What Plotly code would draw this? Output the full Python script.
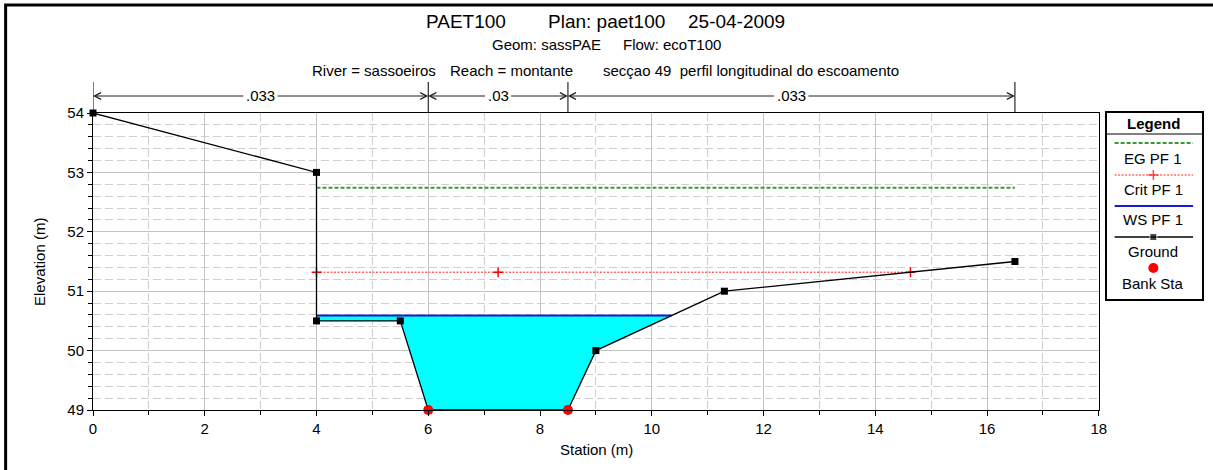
import plotly.graph_objects as go

# ---------------- data ----------------
ground_x = [0, 4, 4, 5.5, 6, 8.5, 9, 11.3, 16.5]
ground_y = [54, 53, 50.5, 50.5, 49, 49, 50, 51, 51.5]
bank_x = [6, 8.5]
bank_y = [49, 49]
ws_elev = 50.59
eg_x = [4, 16.5]
eg_elev = 52.74
crit_x = [4, 7.25, 14.63]
crit_elev = 51.32
n_x = [0, 6, 8.5, 16.5]
n_labels = [".033", ".03", ".033"]

title_parts = ["PAET100", "Plan: paet100", "25-04-2009"]
sub1_parts = ["Geom: sassPAE", "Flow: ecoT100"]
sub2_parts = ["River = sassoeiros", "Reach = montante",
              "secçao 49\u00a0\u00a0perfil longitudinal do escoamento"]
legend_names = ["EG PF 1", "Crit PF 1", "WS PF 1", "Ground", "Bank Sta"]

FONT = "Liberation Sans, Arial, sans-serif"

# ---------------- geometry helpers (layout only, page pixel coords) ----------------
OFF = 0  # body margin removed via post_script
W, H = 1213 - OFF, 470 - OFF
ML = 93 - OFF
MT = 113 - OFF
MB = H - (410 - OFF)
MR = W - (1210 - OFF)
PW = W - ML - MR
PH = H - MT - MB


def pxx(px):
    return (px - OFF - ML) / PW


def pxy(py):
    return (H - MB - (py - OFF)) / PH


# water polygon: ground clipped below water surface
poly_x, poly_y = [], []
for i in range(len(ground_x)):
    if ground_y[i] <= ws_elev:
        poly_x.append(ground_x[i])
        poly_y.append(ground_y[i])
    if i + 1 < len(ground_x):
        y0, y1 = ground_y[i], ground_y[i + 1]
        if (y0 - ws_elev) * (y1 - ws_elev) < 0:
            t = (ws_elev - y0) / (y1 - y0)
            poly_x.append(ground_x[i] + t * (ground_x[i + 1] - ground_x[i]))
            poly_y.append(ws_elev)
ws_x = [min(x for x, y in zip(poly_x, poly_y) if y == ws_elev),
        max(x for x, y in zip(poly_x, poly_y) if y == ws_elev)]

fig = go.Figure()

fig.add_trace(go.Scatter(x=poly_x, y=poly_y, fill="toself", fillcolor="#00ffff",
                         mode="lines", line=dict(width=0, color="#00ffff"),
                         hoverinfo="skip", showlegend=False))
fig.add_trace(go.Scatter(x=ws_x, y=[ws_elev] * 2, mode="lines",
                         line=dict(color="#1a1ad0", width=2), name="WS PF 1",
                         showlegend=False))
fig.add_trace(go.Scatter(x=crit_x, y=[crit_elev] * len(crit_x), mode="lines+markers",
                         line=dict(color="#ff2020", width=1, dash="2px,1.5px"),
                         marker=dict(symbol="cross-thin", size=7,
                                     line=dict(color="#ff0000", width=1.5)),
                         name="Crit PF 1", showlegend=False))
fig.add_trace(go.Scatter(x=eg_x, y=[eg_elev] * 2, mode="lines",
                         line=dict(color="#3a9a3a", width=2, dash="4px,2px"),
                         name="EG PF 1", showlegend=False))
fig.add_trace(go.Scatter(x=ground_x, y=ground_y, mode="lines+markers",
                         line=dict(color="black", width=1.3),
                         marker=dict(symbol="square", size=7, color="black"),
                         name="Ground", showlegend=False, cliponaxis=False))
fig.add_trace(go.Scatter(x=bank_x, y=bank_y, mode="markers",
                         marker=dict(symbol="circle", size=10, color="#ff0000"),
                         name="Bank Sta", showlegend=False, cliponaxis=False))

# ---------------- legend (drawn in its own box) ----------------
lx0, lx1, lc = 1122, 1201, 1161
leg_line_y = [143, 175, 206, 237]
leg_text_y = [158, 189, 219, 251, 283]
fig.add_trace(go.Scatter(x=[lx0, lx1], y=[leg_line_y[0]] * 2, xaxis="x2", yaxis="y2",
                         mode="lines", line=dict(color="#3a9a3a", width=2, dash="4px,2px"),
                         showlegend=False, hoverinfo="skip"))
fig.add_trace(go.Scatter(x=[lx0, lc, lx1], y=[leg_line_y[1]] * 3, xaxis="x2", yaxis="y2",
                         mode="lines+markers", line=dict(color="#ff2020", width=1, dash="2px,1.5px"),
                         marker=dict(symbol="cross-thin", size=[0, 7, 0],
                                     line=dict(color="#ff0000", width=1.5)),
                         showlegend=False, hoverinfo="skip"))
fig.add_trace(go.Scatter(x=[lx0, lx1], y=[leg_line_y[2]] * 2, xaxis="x2", yaxis="y2",
                         mode="lines", line=dict(color="#1a1ad0", width=2),
                         showlegend=False, hoverinfo="skip"))
fig.add_trace(go.Scatter(x=[lx0, lc, lx1], y=[leg_line_y[3]] * 3, xaxis="x2", yaxis="y2",
                         mode="lines+markers", line=dict(color="black", width=1.3),
                         marker=dict(symbol="square", size=[0, 7, 0], color="black"),
                         showlegend=False, hoverinfo="skip"))
fig.add_trace(go.Scatter(x=[lc], y=[268], xaxis="x2", yaxis="y2",
                         mode="markers", marker=dict(symbol="circle", size=10, color="#ff0000"),
                         showlegend=False, hoverinfo="skip"))

annotations = []
annotations.append(dict(x=lc, y=123, xref="x2", yref="y2", text="<b>Legend</b>",
                        showarrow=False, font=dict(family=FONT, size=15, color="black")))
for name, ty in zip(legend_names, leg_text_y):
    annotations.append(dict(x=lc, y=ty, xref="x2", yref="y2", text=name, showarrow=False,
                            font=dict(family=FONT, size=15, color="black")))

# ---------------- titles ----------------
for txt, px in zip(title_parts, [426, 549, 690]):
    annotations.append(dict(x=pxx(px), y=pxy(21), xref="paper", yref="paper", text=txt,
                            xanchor="left", yanchor="middle", showarrow=False,
                            font=dict(family=FONT, size=19, color="black")))
for txt, px in zip(sub1_parts, [493, 625]):
    annotations.append(dict(x=pxx(px), y=pxy(44), xref="paper", yref="paper", text=txt,
                            xanchor="left", yanchor="middle", showarrow=False,
                            font=dict(family=FONT, size=15, color="black")))
for txt, px in zip(sub2_parts, [312, 451, 605]):
    annotations.append(dict(x=pxx(px), y=pxy(70), xref="paper", yref="paper", text=txt,
                            xanchor="left", yanchor="middle", showarrow=False,
                            font=dict(family=FONT, size=15, color="black")))

# axis titles
annotations.append(dict(x=pxx(600), y=pxy(460), xref="paper", yref="paper", text="Station (m)",
                        showarrow=False, font=dict(family=FONT, size=15, color="black")))
annotations.append(dict(x=pxx(28), y=pxy(262), xref="paper", yref="paper", text="Elevation (m)",
                        textangle=-90, showarrow=False,
                        font=dict(family=FONT, size=15, color="black")))

# roughness arrows
arrow_y = pxy(96)
for i, lab in enumerate(n_labels):
    xc = (n_x[i] + n_x[i + 1]) / 2
    for end in (n_x[i], n_x[i + 1]):
        annotations.append(dict(x=end, y=arrow_y, xref="x", yref="paper",
                                ax=xc, axref="x", ay=0, ayref="pixel",
                                text=lab, showarrow=True, arrowhead=5, arrowsize=1.3,
                                arrowwidth=1, arrowcolor="#202020", bgcolor="white",
                                borderpad=2,
                                font=dict(family=FONT, size=15, color="black")))

shapes = []
for xv in n_x:
    shapes.append(dict(type="line", xref="x", yref="paper", x0=xv, x1=xv,
                       y0=1, y1=pxy(82), line=dict(color="black", width=1)))
# legend header separator
shapes.append(dict(type="line", xref="x2", yref="y2", x0=1114, x1=1210, y0=134, y1=134,
                   line=dict(color="black", width=1)))
# outer frame
shapes.append(dict(type="rect", xref="paper", yref="paper", x0=pxx(5), x1=pxx(1400),
                   y0=pxy(5), y1=pxy(700), line=dict(color="black", width=3),
                   fillcolor="rgba(0,0,0,0)", layer="above"))

grid_major = "#c4c4c4"
grid_minor = "#cfcfcf"

fig.update_layout(
    width=W, height=H,
    margin=dict(l=ML, r=MR, t=MT, b=MB, pad=0),
    paper_bgcolor="white", plot_bgcolor="white",
    showlegend=False,
    font=dict(family=FONT, size=15, color="black"),
    xaxis=dict(domain=[0, pxx(1106)], range=[0, 18], dtick=2, tick0=0,
               ticks="outside", ticklen=5, tickcolor="black",
               showline=True, linecolor="black", linewidth=1, mirror=True,
               showgrid=True, gridcolor=grid_major, gridwidth=1, zeroline=False,
               tickfont=dict(family=FONT, size=15, color="black"),
               minor=dict(dtick=1, ticks="outside", ticklen=4, tickcolor="black",
                          showgrid=True, gridcolor=grid_minor, griddash="8px,4px"),
               fixedrange=True),
    yaxis=dict(domain=[0, 1], range=[49, 54], dtick=1, tick0=49,
               ticks="outside", ticklen=5, tickcolor="black",
               showline=True, linecolor="black", linewidth=1, mirror=True,
               showgrid=True, gridcolor=grid_major, gridwidth=1, zeroline=False,
               tickfont=dict(family=FONT, size=15, color="black"),
               minor=dict(dtick=0.2, ticks="outside", ticklen=4, tickcolor="black",
                          showgrid=True, gridcolor=grid_minor, griddash="8px,4px"),
               fixedrange=True),
    xaxis2=dict(domain=[pxx(1114), 1], range=[1114, 1210],
                anchor="y2", showline=True, linecolor="black", linewidth=1.5, mirror=True,
                showgrid=False, zeroline=False, showticklabels=False, ticks="",
                fixedrange=True),
    yaxis2=dict(domain=[pxy(299), 1], range=[299, 113], anchor="x2",
                showline=True, linecolor="black", linewidth=1.5, mirror=True,
                showgrid=False, zeroline=False, showticklabels=False, ticks="",
                fixedrange=True),
    annotations=annotations,
    shapes=shapes,
)

fig.write_html("out.html", config={"displayModeBar": False},
               post_script="document.body.style.margin='0';document.body.style.overflow='hidden';")
